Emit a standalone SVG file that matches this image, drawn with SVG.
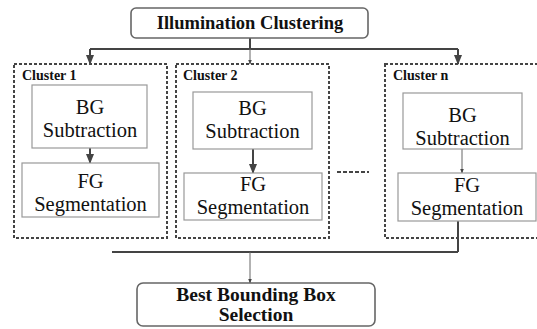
<svg xmlns="http://www.w3.org/2000/svg" width="537" height="329" viewBox="0 0 537 329" font-family="'Liberation Serif', Tinos, 'Times New Roman', 'DejaVu Serif', serif">
<style>
text{font-family:'Liberation Serif', Tinos, 'Times New Roman', 'DejaVu Serif', serif;fill:#111}
.title{font-size:18.5px;font-weight:bold;text-anchor:middle}
.title2{font-size:19.5px;font-weight:bold;text-anchor:middle}
.lbl{font-size:14px;font-weight:bold}
.box{font-size:20.5px;text-anchor:middle}
.rbox{fill:#fff;stroke:#666;stroke-width:1.6}
.pbox{fill:#fff;stroke:#999;stroke-width:1.2}
.cl{fill:none;stroke:#444;stroke-width:2;stroke-dasharray:3 2}
.ln{fill:none;stroke:#444;stroke-width:2}
.thin{fill:none;stroke:#666;stroke-width:1}
</style>
<defs>
<marker id="ah" viewBox="0 0 10 10" refX="9" refY="5" markerWidth="5" markerHeight="5" orient="auto">
<path d="M0,1 L10,5 L0,9 z" fill="#444"/>
</marker>
</defs>
<g id="connectors">
<line class="ln" x1="250" y1="38" x2="250" y2="49"/>
<line class="ln" x1="90" y1="49" x2="458" y2="49"/>
<line class="ln" x1="90" y1="49" x2="90" y2="64" marker-end="url(#ah)"/>
<line class="thin" x1="250" y1="49" x2="250" y2="64" marker-end="url(#ah)"/>
<line class="ln" x1="458" y1="49" x2="458" y2="64" marker-end="url(#ah)"/>
<line class="ln" x1="90" y1="148" x2="90" y2="163" marker-end="url(#ah)"/>
<line class="ln" x1="253" y1="149" x2="253" y2="173" marker-end="url(#ah)"/>
<line class="thin" x1="462" y1="149" x2="462" y2="173" marker-end="url(#ah)"/>
<line class="ln" x1="458" y1="221" x2="458" y2="252"/>
<line class="ln" x1="112" y1="252" x2="458" y2="252"/>
<line class="thin" x1="250" y1="252" x2="250" y2="283" marker-end="url(#ah)"/>
<line class="ln" x1="337" y1="172" x2="369" y2="172" stroke-dasharray="4 2"/>
</g>
<g id="illumination">
<rect class="rbox" x="131" y="8" width="237" height="30" rx="5"/>
<text class="title" x="250" y="29">Illumination Clustering</text>
</g>
<g id="cluster1">
<rect class="cl" x="14" y="64" width="153" height="174"/>
<text class="lbl" x="22" y="80">Cluster 1</text>
</g>
<g id="bg1">
<rect class="pbox" x="32" y="85" width="115" height="63"/>
<text class="box" x="90" y="114">BG</text>
<text class="box" x="90" y="137">Subtraction</text>
</g>
<g id="fg1">
<rect class="pbox" x="22" y="163" width="137" height="54"/>
<text class="box" x="90.5" y="188">FG</text>
<text class="box" x="90.5" y="211">Segmentation</text>
</g>
<g id="cluster2">
<rect class="cl" x="176" y="64" width="153" height="174"/>
<text class="lbl" x="183" y="80">Cluster 2</text>
</g>
<g id="bg2">
<rect class="pbox" x="193" y="92" width="119" height="57"/>
<text class="box" x="252.5" y="115">BG</text>
<text class="box" x="252.5" y="138">Subtraction</text>
</g>
<g id="fg2">
<rect class="pbox" x="184" y="173" width="138" height="47"/>
<text class="box" x="253" y="191">FG</text>
<text class="box" x="253" y="214">Segmentation</text>
</g>
<g id="clustern">
<rect class="cl" x="385" y="64" width="160" height="174"/>
<text class="lbl" x="393" y="80">Cluster n</text>
</g>
<g id="bgn">
<rect class="pbox" x="403" y="93" width="119" height="56"/>
<text class="box" x="462.5" y="122">BG</text>
<text class="box" x="462.5" y="145">Subtraction</text>
</g>
<g id="fgn">
<rect class="pbox" x="398" y="173" width="138" height="48"/>
<text class="box" x="467" y="192">FG</text>
<text class="box" x="467" y="215">Segmentation</text>
</g>
<g id="best">
<rect class="rbox" x="137" y="283" width="238" height="43" rx="6"/>
<text class="title2" x="256" y="301">Best Bounding Box</text>
<text class="title2" x="256" y="321">Selection</text>
</g>
</svg>
